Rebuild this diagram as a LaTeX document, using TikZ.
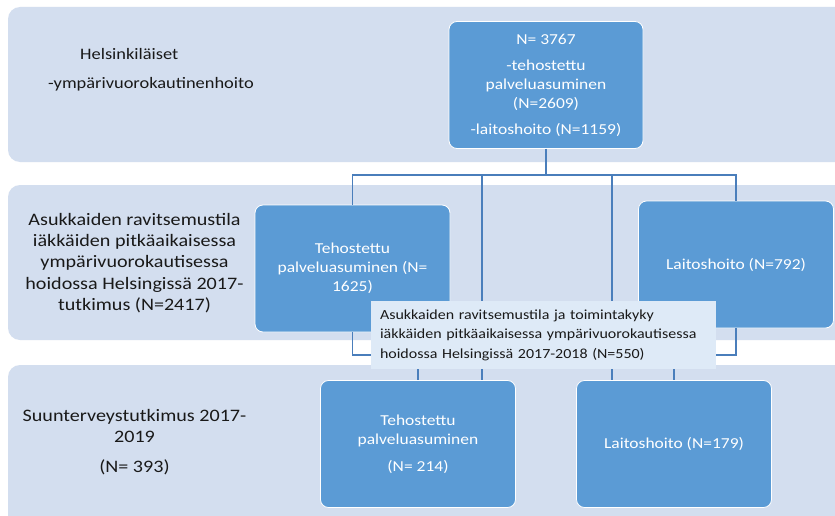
\documentclass[tikz,border=0pt]{standalone}
\usepackage{fontspec}
\setmainfont{Carlito}[FakeStretch=1.15]
\definecolor{bandfill}{RGB}{211,222,239}
\definecolor{boxfill}{RGB}{91,155,213}
\definecolor{notefill}{RGB}{222,234,247}
\definecolor{linkcol}{RGB}{74,126,187}
\tikzset{inner sep=0pt}

\begin{document}
\begin{tikzpicture}[
            x=1pt, y=-1pt,
            band/.style={fill=bandfill, rounded corners=12pt},
            card/.style={draw=white, line width=0.8pt, fill=boxfill, rounded corners=8pt,
                text=white, align=center, minimum width=195pt, minimum height=127pt,
                font=\fontsize{15.2}{19}\selectfont},
            note/.style={fill=notefill, text=black!90, align=left, text width=327pt,
                inner xsep=9pt, minimum height=68pt, font=\fontsize{13.9}{19.5}\selectfont},
            caption/.style={align=center, text=black!90, font=\fontsize{17.5}{21.3}\selectfont},
            link/.style={draw=linkcol, line width=1.2pt},
            trunk/.style={draw=linkcol, line width=2pt}
            ]
            \useasboundingbox (0,0) rectangle (835,516);
            \clip (0,0) rectangle (835,516);
            \fill[white] (0,0) rectangle (835,516);
            \fill[band] (8,7) rectangle (850,162);
            \fill[band] (8,185) rectangle (850,340);
            \fill[band] (8,365) rectangle (850,535);
            \node[caption, align=left, anchor=west, font=\fontsize{16}{21}\selectfont] (cap1) at (48,69.5)
                {\hspace*{32pt}Helsinkiläiset\\[8pt]-ympärivuorokautinenhoito};
            \node[caption] (cap2) at (134.5,263) {Asukkaiden ravitsemustila\\iäkkäiden pitkäaikaisessa\\ympärivuorokautisessa\\hoidossa Helsingissä 2017-\\tutkimus (N=2417)};
            \node[caption] (cap3) at (134.5,442) {Suunterveystutkimus 2017-\\2019\\[9pt](N= 393)};
            \node[card, minimum width=194pt] (top) at (546,85) {N= 3767\\[7pt]-tehostettu\\palveluasuminen\\(N=2609)\\[7pt]-laitoshoito (N=1159)};
            \node[card] (teh1) at (352.5,268.5) {Tehostettu\\palveluasuminen (N=\\1625)};
            \node[card] (lait1) at (736,264.5) {Laitoshoito (N=792)};
            \node[card] (teh2) at (418,444) {Tehostettu\\palveluasuminen\\[8pt](N= 214)};
            \node[card] (lait2) at (674,444) {Laitoshoito (N=179)};
            \coordinate (bus) at (0,175);
            \coordinate (drop) at (0,355);
            \coordinate (t1) at ([xshift=64pt]teh2.north);
            \coordinate (t2) at ([xshift=-62pt]lait2.north);
            \draw[link] (top.south) |- (bus -| teh1.north) -- (teh1.north);
            \draw[link] (top.south) |- (bus -| lait1.north) -- (lait1.north);
            \draw[trunk] (t1 |- bus) -- (t1);
            \draw[trunk] (t2 |- bus) -- (t2);
            \draw[link] (teh1.south) -- (teh1.south |- drop) -| (teh2.north);
            \draw[link] (lait1.south) -- (lait1.south |- drop) -| (lait2.north);
            \node[note] (study) at (543.5,335) {Asukkaiden ravitsemustila ja toimintakyky\\iäkkäiden pitkäaikaisessa ympärivuorokautisessa\\hoidossa Helsingissä 2017-2018 (N=550)};
        \end{tikzpicture}
\end{document}
